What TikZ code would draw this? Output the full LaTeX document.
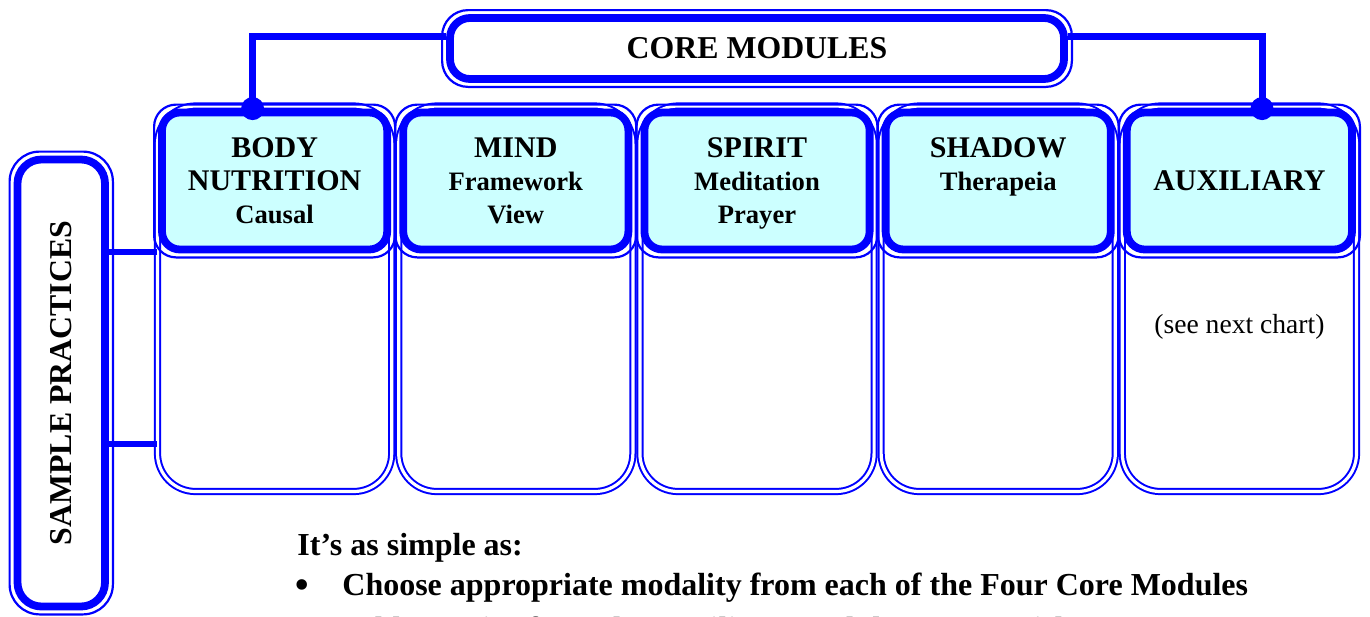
\documentclass[tikz,border=0pt]{standalone}
\usepackage{fontspec}
\setmainfont{Liberation Serif}
\usetikzlibrary{positioning,calc}
\definecolor{modblue}{RGB}{0,0,255}
\definecolor{modcyan}{RGB}{204,255,255}
\newcommand{\hdrfont}{\fontsize{15pt}{16.5pt}\selectfont\bfseries}
\newcommand{\boxfont}{\fontsize{15.9pt}{17pt}\selectfont\bfseries}
\newcommand{\subfont}{\fontsize{13.3pt}{16.5pt}\selectfont\bfseries}
\newcommand{\notefont}{\fontsize{13.8pt}{16pt}\selectfont}
\newcommand{\listfont}{\fontsize{16pt}{20pt}\selectfont\bfseries}
\newcommand{\bulfont}{\fontsize{22pt}{22pt}\selectfont}

\begin{document}
\begin{tikzpicture}[x=0.5pt, y=-0.5pt,
    colbox/.style={draw=modblue, double=white, line width=1pt, double distance=1.6pt,
      rounded corners=19pt, minimum width=117.1pt, minimum height=192.75pt, inner sep=0pt},
    hdrbox/.style={draw=modblue, fill=modcyan, line width=3.9pt, rounded corners=9pt,
      minimum width=112.6pt, minimum height=68.5pt, align=center, font=\hdrfont,
      inner sep=0pt, text depth=0pt},
    framebox/.style={draw=modblue, fill=white, line width=3.9pt, rounded corners=#1,
      font=\boxfont, inner sep=0pt},
    thinrim/.style={draw=modblue, line width=1.1pt, rounded corners=#1},
    link/.style={draw=modblue, line width=3.5pt},
    sidelink/.style={draw=modblue, line width=2.6pt},
    dot/.style={circle, fill=modblue, inner sep=0pt, minimum size=11.5pt},
    plain/.style={inner sep=0pt, font=\listfont},
  ]
    \useasboundingbox (0,0) rectangle (1370,616);

    % Columns: one double outline per module
    \foreach \i in {0,...,4}
        \node[colbox] (col\i) at ({274.6+241.2*\i},298.75) {};

    % Module headers
    \foreach \i/\nm/\txt in {0/body/{BODY\\NUTRITION\\{\subfont Causal}},
                            1/mind/{MIND\\{\subfont Framework}\\{\subfont View}},
                            2/spirit/{SPIRIT\\{\subfont Meditation}\\{\subfont Prayer}},
                            3/shadow/{SHADOW\\{\subfont Therapeia}\\\mbox{}},
                            4/aux/{AUXILIARY}}
        \node[hdrbox] (\nm) at (col\i.center |- 0,181) {\txt};
    \foreach \nm in {body,mind,spirit,shadow,aux}
        \draw[thinrim=11pt] ([shift={(-4,-4)}]\nm.north west) rectangle ([shift={(4,4)}]\nm.south east);

    % Top box
    \node[framebox=10pt, minimum width=307pt, minimum height=30.5pt] (core) at (757,48.5) {CORE MODULES};
    \draw[thinrim=13pt] ([shift={(-4,-4)}]core.north west) rectangle ([shift={(4,4)}]core.south east);

    % Left box
    \node[framebox=12pt, minimum width=43.75pt, minimum height=223.5pt] (sample) at (61.25,383)
        {\rotatebox{90}{SAMPLE PRACTICES}};
    \draw[thinrim=15pt] ([shift={(-4,-4)}]sample.north west) rectangle ([shift={(4,4)}]sample.south east);

    % Connectors
    \node[dot] (dotl) at ([xshift=-11pt]body.north) {};
    \node[dot] (dotr) at ([xshift=11.3pt]aux.north) {};
    \draw[link] ([yshift=6.25pt]core.west) -| (dotl.center);
    \draw[link] ([yshift=6.25pt]core.east) -| (dotr.center);
    \draw[sidelink] (sample.east |- 0,252) -- (col0.west |- 0,252);
    \draw[sidelink] (sample.east |- 0,444) -- (col0.west |- 0,444);

    % Notes
    \node[anchor=base, inner sep=0pt, font=\notefont] (note) at (col4.center |- 0,333) {(see next chart)};
    \node[plain, anchor=base west] (simple) at (297,555) {It’s as simple as:};
    \node[plain, font=\bulfont] (bul1) at (302,590) {\textbullet};
    \node[plain, anchor=base west] (step1) at (342,595) {Choose appropriate modality from each of the Four Core Modules};
    \node[plain, font=\bulfont] (bul2) at (302,634) {\textbullet};
    \node[plain, anchor=base west] (step2) at (342,639) {Add practice from the Auxiliary Modules as you wish};
\end{tikzpicture}
\end{document}
